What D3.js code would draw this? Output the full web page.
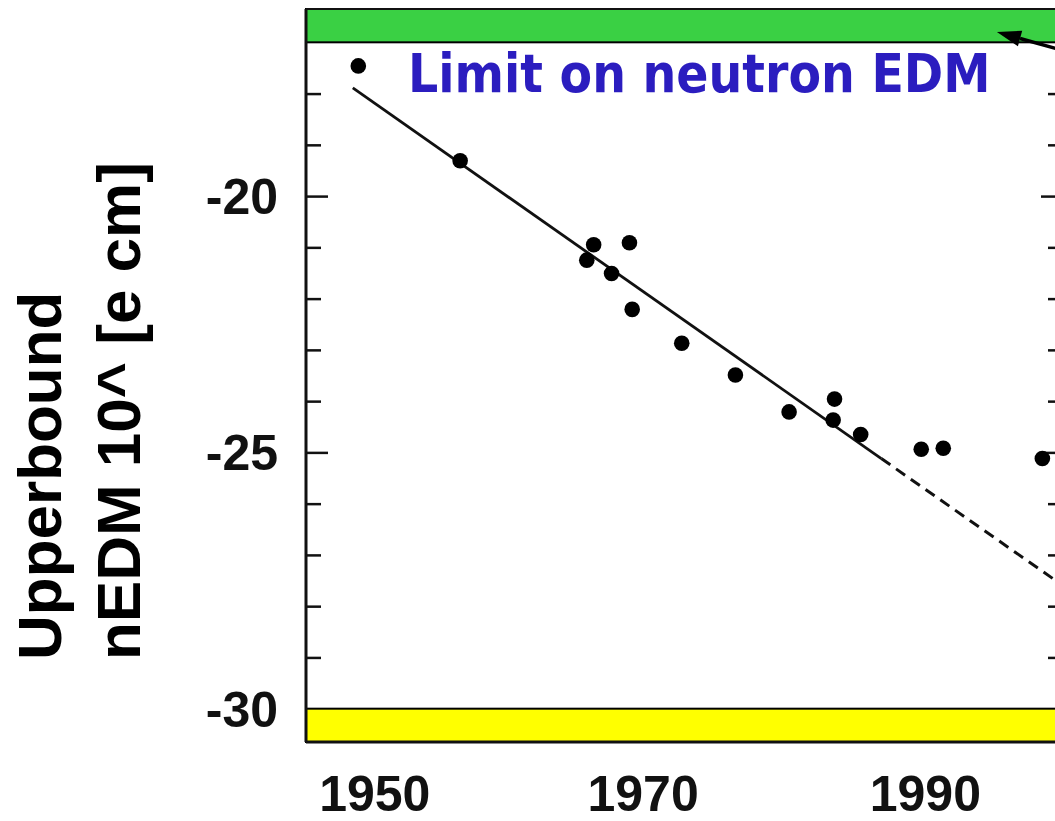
<!DOCTYPE html>
<html>
<head>
<meta charset="utf-8">
<script src="https://cdnjs.cloudflare.com/ajax/libs/d3/7.8.5/d3.min.js"></script>
<style>
  body { margin: 0; background: #fff; }
  svg { display: block; }
</style>
</head>
<body>
<script>
// neutron EDM upper bound vs year

var w = 1055;
var h = 821;

// measurements (year, log10 of the limit)
var years  = [1948.8, 1956.2, 1965.4, 1965.9, 1967.2, 1968.5, 1968.7, 1972.3, 1976.2, 1980.1, 1983.4, 1983.3, 1985.3, 1989.7, 1991.3, 1998.5];
var limits = [-17.46, -19.31, -21.25, -20.95, -21.51, -20.91, -22.21, -22.87, -23.49, -24.21, -23.96, -24.37, -24.65, -24.94, -24.92, -25.12];

// fitted line, solid part and dashed extrapolation
var fitYears = [1948.4, 1986.8];
var fitValues = [-17.89, -25.12];
var trendYears = [1986.8, 2000];
var trendValues = [-25.12, -27.6];

// axes
var xTickLabels = [1950, 1970, 1990];
var yTickLabels = [-20, -25, -30];
var yMinorTicks = [-18, -19, -21, -22, -23, -24, -26, -27, -28, -29];

// bands: green = upper limit region, yellow = lower
var greenBand = [-16.35, -17.0];
var yellowBand = [-30.0, -30.65];

// arrow annotation (year, value) tail -> tip
var arrowYears = [2001.5, 1995.2];
var arrowValues = [-17.27, -16.80];

var plotLeft = 306, plotRight = 1063, plotTop = 9, plotBottom = 742;

var svg = d3.select("body")
  .append("svg")
  .attr("width", w)
  .attr("height", h);

svg.append("rect")
  .attr("width", w)
  .attr("height", h)
  .attr("fill", "white");

var x = d3.scaleLinear().domain([1945, 2000]).range([plotLeft, plotRight]);
var y = d3.scaleLinear().domain([-16.35, -30.65]).range([plotTop, plotBottom]);

// bands
svg.append("rect")
  .attr("x", plotLeft)
  .attr("y", y(greenBand[0]))
  .attr("width", plotRight - plotLeft)
  .attr("height", y(greenBand[1]) - y(greenBand[0]))
  .attr("fill", "#3ad044")
  .attr("stroke", "#000")
  .attr("stroke-width", 2);

svg.append("rect")
  .attr("x", plotLeft)
  .attr("y", y(yellowBand[0]))
  .attr("width", plotRight - plotLeft)
  .attr("height", y(yellowBand[1]) - y(yellowBand[0]))
  .attr("fill", "#ffff00")
  .attr("stroke", "#000")
  .attr("stroke-width", 2);

// frame
svg.append("line")
  .attr("x1", plotLeft).attr("x2", plotLeft)
  .attr("y1", plotTop).attr("y2", plotBottom)
  .attr("stroke", "#111").attr("stroke-width", 3);
svg.append("line")
  .attr("x1", plotLeft).attr("x2", plotRight)
  .attr("y1", plotBottom).attr("y2", plotBottom)
  .attr("stroke", "#111").attr("stroke-width", 3);
svg.append("line")
  .attr("x1", plotLeft).attr("x2", plotRight)
  .attr("y1", plotTop).attr("y2", plotTop)
  .attr("stroke", "#111").attr("stroke-width", 2);
svg.append("line")
  .attr("x1", plotRight).attr("x2", plotRight)
  .attr("y1", plotTop).attr("y2", plotBottom)
  .attr("stroke", "#111").attr("stroke-width", 3);

// y ticks, inside on both sides
var leftAxisMinor = d3.axisRight(y).tickValues(yMinorTicks).tickSize(15).tickFormat("");
var leftAxisMajor = d3.axisRight(y).tickValues([-20, -25]).tickSize(22).tickFormat("");
var rightAxisMinor = d3.axisLeft(y).tickValues(yMinorTicks).tickSize(15).tickFormat("");
var rightAxisMajor = d3.axisLeft(y).tickValues([-20, -25]).tickSize(22).tickFormat("");

[leftAxisMinor, leftAxisMajor].forEach(function(ax) {
  svg.append("g").attr("transform", "translate(" + plotLeft + ",0)").call(ax);
});
[rightAxisMinor, rightAxisMajor].forEach(function(ax) {
  svg.append("g").attr("transform", "translate(" + plotRight + ",0)").call(ax);
});
svg.selectAll(".domain").remove();
svg.selectAll(".tick line").attr("stroke", "#111").attr("stroke-width", 2.5);

// y tick labels
svg.selectAll("text.ylab")
  .data(yTickLabels)
  .enter()
  .append("text")
  .attr("class", "ylab")
  .attr("x", 278)
  .attr("y", function(d) { return y(d); })
  .attr("dy", "0.36em")
  .attr("text-anchor", "end")
  .attr("font-family", "Liberation Sans, Arial, sans-serif")
  .attr("font-weight", "bold")
  .attr("font-size", 50)
  .attr("fill", "#111")
  .text(function(d) { return d; });

// x tick labels
svg.selectAll("text.xlab")
  .data(xTickLabels)
  .enter()
  .append("text")
  .attr("class", "xlab")
  .attr("x", function(d) { return x(d) - (d === 1970 ? 7 : 0); })
  .attr("y", 811)
  .attr("text-anchor", "middle")
  .attr("font-family", "Liberation Sans, Arial, sans-serif")
  .attr("font-weight", "bold")
  .attr("font-size", 50)
  .attr("fill", "#111")
  .text(function(d) { return d; });

// y axis title, two lines
var title = svg.append("g")
  .attr("transform", "translate(0,660) rotate(-90)")
  .attr("font-family", "Liberation Sans, Arial, sans-serif")
  .attr("font-weight", "bold")
  .attr("font-size", 62)
  .attr("fill", "#000");
title.append("text").attr("x", 0).attr("y", 61).text("Upperbound");
title.append("text").attr("x", 0).attr("y", 140).text("nEDM 10^ [e cm]");

// fit line
var line = d3.line()
  .x(function(d) { return x(d[0]); })
  .y(function(d) { return y(d[1]); });

svg.append("path")
  .datum(d3.zip(fitYears, fitValues))
  .attr("d", line)
  .attr("fill", "none")
  .attr("stroke", "#111")
  .attr("stroke-width", 2.8);

svg.append("path")
  .datum(d3.zip(trendYears, trendValues))
  .attr("d", line)
  .attr("fill", "none")
  .attr("stroke", "#111")
  .attr("stroke-width", 3)
  .attr("stroke-dasharray", "11,7");

// points
svg.selectAll("circle")
  .data(d3.zip(years, limits))
  .enter()
  .append("circle")
  .attr("cx", function(d) { return x(d[0]); })
  .attr("cy", function(d) { return y(d[1]); })
  .attr("r", 7.8)
  .attr("fill", "#000");

// label (stretched a bit vertically to get the tall comic look)
svg.append("text")
  .attr("transform", "translate(408,92) scale(1,1.14)")
  .attr("font-family", "Comic Sans MS, DejaVu Sans, sans-serif")
  .attr("font-weight", "bold")
  .attr("font-size", 47.5)
  .attr("fill", "#2b1dbf")
  .text("Limit on neutron EDM");

// arrow
var tail = [x(arrowYears[0]), y(arrowValues[0])];
var tip = [x(arrowYears[1]), y(arrowValues[1])];
var dx = tail[0] - tip[0], dy = tail[1] - tip[1];
var len = Math.sqrt(dx * dx + dy * dy);
var ux = dx / len, uy = dy / len;
var headLen = 24, headW = 8;
var bx = tip[0] + ux * headLen, by = tip[1] + uy * headLen;

svg.append("line")
  .attr("x1", tail[0]).attr("y1", tail[1])
  .attr("x2", bx).attr("y2", by)
  .attr("stroke", "#000")
  .attr("stroke-width", 3.5);

svg.append("polygon")
  .attr("points", [
    tip,
    [bx - uy * headW, by + ux * headW],
    [bx + uy * headW, by - ux * headW]
  ].map(function(p) { return p.join(","); }).join(" "))
  .attr("fill", "#000");
</script>
</body>
</html>
